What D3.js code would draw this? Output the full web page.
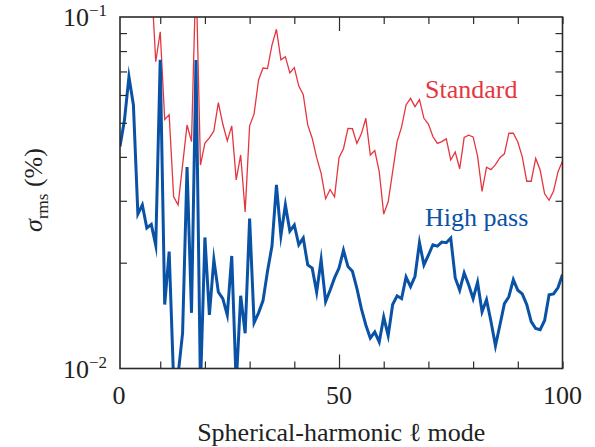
<!DOCTYPE html>
<html>
<head>
<meta charset="utf-8">
<script src="https://cdn.jsdelivr.net/npm/d3@7"></script>
<style>
  body { margin: 0; background: #fff; }
  svg { display: block; }
  text { font-family: "Liberation Serif", "DejaVu Serif", serif; }
</style>
</head>
<body>
<svg width="595" height="447"></svg>
<script>
// spherical-harmonic modes l = 1 ... 100
const modes = d3.range(1, 101);

// sigma_rms (%) for the standard map
const standard = [
  0.16, 0.17, 0.15, 0.16, 0.14, 0.15, 0.13, 0.128, 0.0746, 0.0908,
  0.0511, 0.0527, 0.0308, 0.0292, 0.0379, 0.0493, 0.0442, 0.135, 0.0379, 0.0438,
  0.0453, 0.0474, 0.0571, 0.0496, 0.0444, 0.0490, 0.0344, 0.0405, 0.0279, 0.0490,
  0.0530, 0.0662, 0.0716, 0.0713, 0.0832, 0.0923, 0.0755, 0.0771, 0.0693, 0.0718,
  0.0636, 0.0601, 0.0493, 0.0452, 0.0398, 0.0359, 0.0304, 0.0323, 0.0308, 0.0398,
  0.0422, 0.0482, 0.0481, 0.0437, 0.0465, 0.0515, 0.0405, 0.0417, 0.0363, 0.0275,
  0.0298, 0.0363, 0.0442, 0.0487, 0.0562, 0.0587, 0.0556, 0.0582, 0.0515, 0.0496,
  0.0457, 0.0437, 0.0442, 0.0450, 0.0392, 0.0413, 0.0370, 0.0454, 0.0461, 0.0456,
  0.0402, 0.0319, 0.0374, 0.0368, 0.0380, 0.0398, 0.0408, 0.0467, 0.0467, 0.0441,
  0.0400, 0.0341, 0.0341, 0.0396, 0.0367, 0.0314, 0.0301, 0.0320, 0.0363, 0.0389
];

// sigma_rms (%) for the high pass map
const highPass = [
  0.0428, 0.0509, 0.0676, 0.0562, 0.0275, 0.0292, 0.0251, 0.0257, 0.0224, 0.0755,
  0.0152, 0.0215, 0.0092, 0.0096, 0.0126, 0.0374, 0.0144, 0.0755, 0.0088, 0.0236,
  0.0142, 0.0204, 0.0165, 0.0158, 0.0142, 0.0209, 0.0090, 0.0161, 0.0126, 0.0267,
  0.0135, 0.0144, 0.0156, 0.0189, 0.0223, 0.0333, 0.0239, 0.0292, 0.0246, 0.0256,
  0.0225, 0.0235, 0.0197, 0.0193, 0.0165, 0.0204, 0.0155, 0.0167, 0.0181, 0.0193,
  0.0217, 0.0195, 0.0189, 0.0169, 0.0148, 0.0133, 0.0122, 0.0127, 0.0119, 0.0140,
  0.0124, 0.0152, 0.0161, 0.0158, 0.0182, 0.0171, 0.0183, 0.0228, 0.0197, 0.0210,
  0.0225, 0.0223, 0.0229, 0.0228, 0.0235, 0.0181, 0.0167, 0.0187, 0.0173, 0.0158,
  0.0176, 0.0145, 0.0157, 0.0136, 0.0116, 0.0133, 0.0153, 0.0160, 0.0179, 0.0167,
  0.0163, 0.0152, 0.0136, 0.0130, 0.0129, 0.0137, 0.0162, 0.0163, 0.0170, 0.0185
];

// ticks
const xMinorTicks = [10, 20, 30, 40, 60, 70, 80, 90, 100];
const xMajorTicks = [50];
const xLabels = [0, 50, 100];
const yMinorTicks = [0.02, 0.03, 0.04, 0.05, 0.06, 0.07, 0.08, 0.09];
const yLabels = [{ v: 0.1, exp: "\u22121" }, { v: 0.01, exp: "\u22122" }];

const RED = "#e5363f";
const BLUE = "#0a52a6";
const AXIS = "#2b2b2b";

let svg = d3.select("svg");
const plotLeft = 120, plotRight = 562.5, plotTop = 17, plotBottom = 368.5;

const x = d3.scaleLinear().domain([1, 100]).range([plotLeft, plotRight]);
const y = d3.scaleLog().domain([0.01, 0.1]).range([plotBottom, plotTop]);

// clip for the curves
svg.append("defs").append("clipPath").attr("id", "plot")
  .append("rect")
    .attr("x", plotLeft).attr("y", plotTop)
    .attr("width", plotRight - plotLeft).attr("height", plotBottom - plotTop);

const line = d3.line()
  .x((d, i) => x(modes[i]))
  .y(d => y(d));

const curves = svg.append("g").attr("clip-path", "url(#plot)");
curves.append("path")
  .attr("d", line(standard))
  .attr("fill", "none")
  .attr("stroke", RED)
  .attr("stroke-width", 1.3);
curves.append("path")
  .attr("d", line(highPass))
  .attr("fill", "none")
  .attr("stroke", BLUE)
  .attr("stroke-width", 3)
  .attr("stroke-linejoin", "miter")
  .attr("stroke-miterlimit", 10);

// inward ticks on all four sides
function tickAxis(axis, transform, size, values) {
  const g = svg.append("g")
    .attr("transform", transform)
    .call(axis.tickValues(values).tickSize(size).tickFormat(""));
  g.select(".domain").remove();
  g.selectAll("line").attr("stroke", AXIS).attr("stroke-width", 1.2);
  return g;
}
tickAxis(d3.axisBottom(x), `translate(0,${plotBottom})`, -7, xMinorTicks);
tickAxis(d3.axisBottom(x), `translate(0,${plotBottom})`, -14, xMajorTicks);
tickAxis(d3.axisTop(x), `translate(0,${plotTop})`, -7, xMinorTicks);
tickAxis(d3.axisTop(x), `translate(0,${plotTop})`, -14, xMajorTicks);
tickAxis(d3.axisLeft(y), `translate(${plotLeft},0)`, -7, yMinorTicks);
tickAxis(d3.axisRight(y), `translate(${plotRight},0)`, -7, yMinorTicks);

// frame
svg.append("rect")
  .attr("x", plotLeft).attr("y", plotTop)
  .attr("width", plotRight - plotLeft).attr("height", plotBottom - plotTop)
  .attr("fill", "none")
  .attr("stroke", AXIS)
  .attr("stroke-width", 1.6);

// x tick labels
svg.append("g").selectAll("text")
  .data(xLabels)
  .enter().append("text")
    .attr("x", d => Math.max(x(d), plotLeft - 1))
    .attr("y", 404)
    .attr("text-anchor", "middle")
    .attr("font-size", 26)
    .attr("fill", "#222")
    .text(d => d);

// y tick labels 10^-1, 10^-2
const yl = svg.append("g").selectAll("text")
  .data(yLabels)
  .enter().append("text")
    .attr("x", 107)
    .attr("y", d => y(d.v) + 9)
    .attr("text-anchor", "end")
    .attr("font-size", 26)
    .attr("fill", "#222");
yl.append("tspan").text("10");
yl.append("tspan").attr("dy", -10).attr("font-size", 17).text(d => d.exp);

// axis titles
svg.append("text")
  .attr("x", (plotLeft + plotRight) / 2)
  .attr("y", 441)
  .attr("text-anchor", "middle")
  .attr("font-size", 26)
  .attr("fill", "#222")
  .text("Spherical-harmonic \u2113 mode");

const yt = svg.append("text")
  .attr("transform", "translate(42,190) rotate(-90)")
  .attr("text-anchor", "middle")
  .attr("font-size", 26)
  .attr("fill", "#222");
yt.append("tspan").attr("font-style", "italic").text("\u03c3");
yt.append("tspan").attr("font-size", 17).attr("dy", 6).text("rms");
yt.append("tspan").attr("dy", -6).text(" (%)");

// series labels
svg.append("text")
  .attr("x", 425).attr("y", 98)
  .attr("font-size", 26)
  .attr("fill", RED)
  .text("Standard");
svg.append("text")
  .attr("x", 425).attr("y", 226)
  .attr("font-size", 26)
  .attr("fill", BLUE)
  .text("High pass");
</script>
</body>
</html>
